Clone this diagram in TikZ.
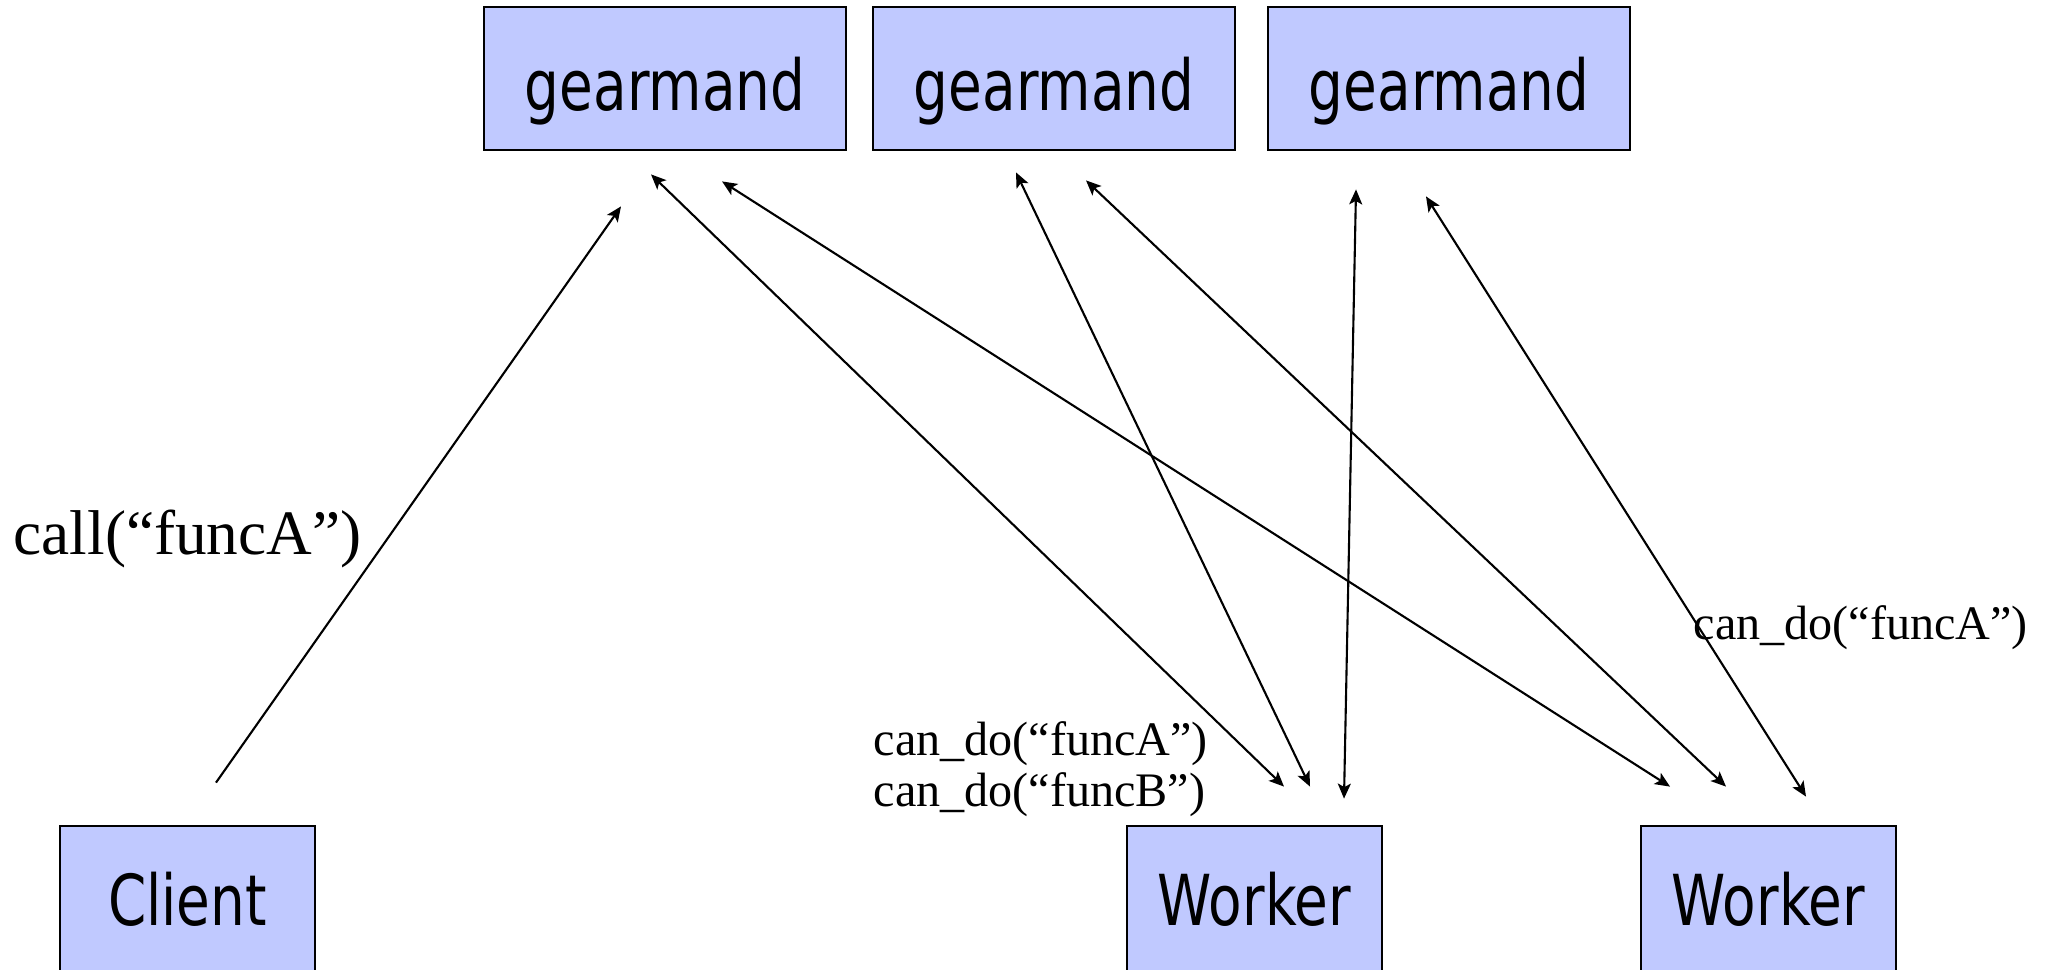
\documentclass[tikz,border=0pt]{standalone}
\usepackage{fontspec}
\setmainfont{Liberation Serif}
\newfontfamily\boxfont[FakeStretch=0.78]{DejaVu Sans}
\usetikzlibrary{arrows.meta}

\definecolor{boxblue}{RGB}{192,201,255}

\begin{document}
\begin{tikzpicture}[
    server/.style={draw, rectangle, fill=boxblue, line width=0.8pt, minimum width=3.62cm, minimum height=1.43cm, text height=0.75cm, text depth=0.1cm, font=\boxfont\fontsize{20}{22}\selectfont},
    peer/.style={draw, rectangle, fill=boxblue, line width=0.8pt, minimum width=2.55cm, minimum height=1.6cm, text height=0.48cm, text depth=0.1cm, font=\boxfont\fontsize{20}{22}\selectfont},
    msg/.style={line width=0.6pt, -{Stealth[length=0.15cm, width=0.13cm, inset=0.035cm]}},
    bimsg/.style={line width=0.6pt, {Stealth[length=0.15cm, width=0.13cm, inset=0.035cm]}-{Stealth[length=0.15cm, width=0.13cm, inset=0.035cm]}}
]
    \useasboundingbox (0, 0) rectangle (20.5, 9.69);

    % Draw job servers
    \node (gmA) at (6.65, 8.905) [server] {gearmand};
    \node (gmB) at (10.54, 8.905) [server] {gearmand};
    \node (gmC) at (14.49, 8.905) [server] {gearmand};

    % Draw client and workers
    \node (client) at (1.875, 0.63) [peer] {Client};
    \node (workerA) at (12.545, 0.63) [peer] {Worker};
    \node (workerB) at (17.685, 0.63) [peer] {Worker};

    % Draw labels
    \node (callLbl) at (0.13, 4.3) [anchor=west, inner sep=0pt, font=\fontsize{18}{20}\selectfont] {call(“funcA”)};
    \node (canA) at (8.73, 2.0) [anchor=west, align=left, inner sep=0pt, font=\fontsize{13.7}{14.6}\selectfont] {can\_do(“funcA”)\\can\_do(“funcB”)};
    \node (canB) at (16.93, 3.41) [anchor=west, inner sep=0pt, font=\fontsize{13.7}{14.6}\selectfont] {can\_do(“funcA”)};

    % Draw arrows
    \draw[msg] ([shift={(0.285, 0.42)}]client.north) -- ([shift={(-0.44, -0.55)}]gmA.south);
    \draw[bimsg] ([shift={(-0.14, -0.23)}]gmA.south) -- ([shift={(0.295, 0.38)}]workerA.north);
    \draw[bimsg] ([shift={(0.57, -0.30)}]gmA.south) -- ([shift={(-0.985, 0.38)}]workerB.north);
    \draw[bimsg] ([shift={(-0.38, -0.21)}]gmB.south) -- ([shift={(0.555, 0.38)}]workerA.north);
    \draw[bimsg] ([shift={(0.32, -0.29)}]gmB.south) -- ([shift={(-0.425, 0.38)}]workerB.north);
    \draw[bimsg] ([shift={(-0.93, -0.38)}]gmC.south) -- ([shift={(0.895, 0.26)}]workerA.north);
    \draw[bimsg] ([shift={(-0.23, -0.45)}]gmC.south) -- ([shift={(0.375, 0.28)}]workerB.north);
\end{tikzpicture}
\end{document}
